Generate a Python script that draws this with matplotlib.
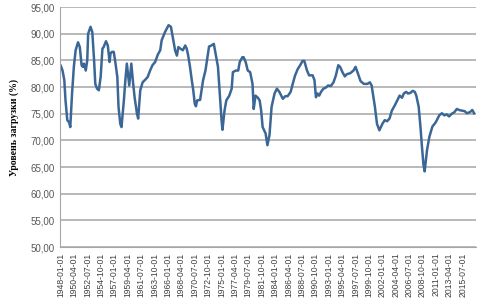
import matplotlib
matplotlib.use("Agg")
import matplotlib.pyplot as plt
import numpy as np

# fractional year of each reading and capacity utilisation (%)
years = [1948.0, 1948.3, 1948.6, 1948.8, 1949.1, 1949.4, 1949.6, 1949.9, 1950.2, 1950.5,
         1950.9, 1951.2, 1951.5, 1951.7, 1951.9, 1952.2, 1952.45, 1952.6, 1953.0, 1953.3,
         1953.6, 1953.8, 1954.1, 1954.4, 1954.7, 1955.0, 1955.2, 1955.6, 1955.9, 1956.2,
         1956.35, 1956.6, 1956.9, 1957.2, 1957.5, 1957.7, 1958.0, 1958.2, 1958.6, 1958.85,
         1959.1, 1959.4, 1959.5, 1959.85, 1960.1, 1960.4, 1960.8, 1961.0, 1961.35, 1961.75,
         1962.2, 1962.6, 1963.0, 1963.4, 1963.85, 1964.3, 1964.7, 1964.95, 1965.5, 1966.1,
         1966.5, 1966.8, 1967.2, 1967.5, 1967.75, 1968.1, 1968.5, 1968.9, 1969.15, 1969.4,
         1969.7, 1970.0, 1970.25, 1970.5, 1970.7, 1970.9, 1971.4, 1971.65, 1971.9, 1972.3,
         1972.6, 1972.9, 1973.3, 1973.7, 1974.0, 1974.4, 1974.7, 1975.0, 1975.15, 1975.5,
         1975.8, 1976.3, 1976.7, 1976.9, 1977.4, 1977.8, 1978.05, 1978.5, 1978.7, 1979.05,
         1979.4, 1979.8, 1980.2, 1980.4, 1980.7, 1981.1, 1981.4, 1981.65, 1981.9, 1982.4,
         1982.7, 1983.05, 1983.4, 1983.9, 1984.3, 1984.7, 1985.3, 1985.7, 1986.1, 1986.6,
         1986.95, 1987.35, 1987.8, 1988.2, 1988.6, 1988.9, 1989.35, 1989.7, 1990.3, 1990.6,
         1990.85, 1991.1, 1991.4, 1991.7, 1992.1, 1992.5, 1992.9, 1993.35, 1993.8, 1994.2,
         1994.6, 1994.9, 1995.3, 1995.7, 1996.0, 1996.6, 1997.15, 1997.5, 1997.9, 1998.35,
         1998.9, 1999.5, 1999.9, 2000.2, 2000.4, 2000.75, 2001.1, 2001.5, 2002.0, 2002.4,
         2002.8, 2003.2, 2003.6, 2004.1, 2004.5, 2004.9, 2005.3, 2005.6, 2006.0, 2006.3,
         2006.7, 2007.1, 2007.45, 2007.7, 2008.1, 2008.4, 2008.65, 2008.9, 2009.1, 2009.5,
         2009.9, 2010.4, 2010.9, 2011.15, 2011.55, 2012.0, 2012.4, 2012.8, 2013.2, 2013.65,
         2014.1, 2014.5, 2014.9, 2015.3, 2015.8, 2016.2, 2016.7, 2017.1, 2017.4]
util = [84.0, 83.1, 81.3, 77.5, 73.8, 73.4, 72.5, 78.8, 83.8, 86.9,
        88.4, 87.5, 84.1, 83.8, 84.4, 83.1, 85.0, 90.0, 91.3, 90.3,
        85.0, 80.6, 79.7, 79.4, 81.9, 87.2, 87.5, 88.6, 87.8, 84.7,
        86.3, 86.6, 86.6, 84.4, 81.9, 76.3, 73.1, 72.5, 77.5, 81.3,
        84.4, 81.3, 80.3, 84.4, 81.3, 78.1, 75.0, 74.1, 79.4, 80.9,
        81.4, 81.9, 83.1, 84.1, 84.7, 86.1, 86.9, 88.8, 90.3, 91.6,
        91.3, 89.4, 86.9, 85.9, 87.5, 87.2, 86.9, 87.8, 87.2, 85.9,
        83.8, 81.3, 79.4, 76.9, 76.4, 77.5, 77.6, 79.4, 81.3, 83.1,
        85.3, 87.6, 87.8, 88.1, 86.3, 83.8, 78.8, 73.8, 72.0, 75.6,
        77.5, 78.4, 79.7, 82.8, 83.1, 83.1, 84.7, 85.6, 85.6, 84.7,
        83.1, 82.8, 80.6, 75.9, 78.4, 78.0, 77.5, 75.6, 72.5, 71.3,
        69.1, 71.0, 76.3, 78.8, 79.7, 79.1, 77.8, 78.3, 78.3, 79.1,
        80.6, 82.2, 83.4, 84.1, 84.9, 84.9, 83.1, 82.2, 82.2, 81.3,
        78.1, 78.8, 78.4, 79.1, 79.7, 79.9, 80.3, 80.2, 80.9, 82.2,
        84.1, 83.8, 82.8, 82.0, 82.4, 82.6, 83.1, 83.8, 82.5, 81.1,
        80.6, 80.6, 80.9, 80.3, 78.8, 76.3, 73.1, 71.9, 73.1, 73.8,
        73.6, 74.1, 75.6, 76.6, 77.5, 78.4, 78.0, 78.8, 79.1, 78.8,
        78.9, 79.3, 79.1, 78.4, 76.3, 72.5, 68.8, 65.5, 64.2, 68.2,
        70.7, 72.6, 73.3, 73.8, 74.7, 75.1, 74.7, 74.9, 74.5, 75.0,
        75.3, 75.9, 75.7, 75.6, 75.5, 75.1, 75.3, 75.7, 75.1]

tick_labels = ["1948-01-01", "1950-04-01", "1952-07-01", "1954-10-01", "1957-01-01",
               "1959-04-01", "1961-07-01", "1963-10-01", "1966-01-01", "1968-04-01",
               "1970-07-01", "1972-10-01", "1975-01-01", "1977-04-01", "1979-07-01",
               "1981-10-01", "1984-01-01", "1986-04-01", "1988-07-01", "1990-10-01",
               "1993-01-01", "1995-04-01", "1997-07-01", "1999-10-01", "2002-01-01",
               "2004-04-01", "2006-07-01", "2008-10-01", "2011-01-01", "2013-04-01",
               "2015-07-01"]

# quarter index since 1948-01
x = (np.array(years) - 1948.0) * 4
tick_pos = [int(lab[:4]) * 4 + (int(lab[5:7]) - 1) // 3 - 1948 * 4 for lab in tick_labels]

fig = plt.figure(figsize=(4.8, 3.07), dpi=100)
ax = fig.add_axes([0.125, 0.195, 0.867, 0.782])

ax.plot(x, util, color='#3b6797', lw=1.8, solid_joinstyle='round')

ax.set_ylim(50, 95)
ax.set_yticks(np.arange(50, 96, 5))
ax.set_yticklabels(['%d,00' % v for v in range(50, 96, 5)],
                   fontsize=7, color='#595959', family='Liberation Sans')
ax.set_xlim(-0.5, 279)
ax.set_xticks(tick_pos)
ax.set_xticklabels(tick_labels, rotation=90, fontsize=6.2, color='#404040',
                   family='Liberation Sans')
ax.tick_params(length=0, pad=4)

ax.grid(axis='y', color='#a6a6a6', lw=1.1)
ax.set_axisbelow(True)
for s in ['top', 'right']:
    ax.spines[s].set_visible(False)
ax.spines['left'].set_color('#a6a6a6')
ax.spines['bottom'].set_color('#a6a6a6')

ax.set_ylabel('Уровень загрузки (%)', fontsize=7, fontweight='bold',
              family='Liberation Serif', labelpad=8)

fig.savefig('out.png', dpi=100)
